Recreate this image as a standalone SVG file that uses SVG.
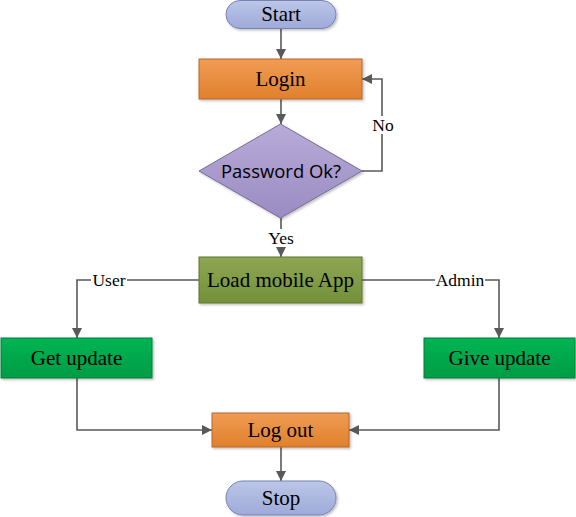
<svg xmlns="http://www.w3.org/2000/svg" width="576" height="517" viewBox="0 0 576 517">
<defs>
<linearGradient id="gBlue" x1="0" y1="0" x2="0" y2="1"><stop offset="0" stop-color="#bcc6e8"/><stop offset="1" stop-color="#9eaad9"/></linearGradient>
<linearGradient id="gOrange" x1="0" y1="0" x2="0" y2="1"><stop offset="0" stop-color="#f09c55"/><stop offset="1" stop-color="#e0802c"/></linearGradient>
<linearGradient id="gPurple" x1="0" y1="0" x2="0" y2="1"><stop offset="0" stop-color="#b9abd8"/><stop offset="1" stop-color="#9a8bc2"/></linearGradient>
<linearGradient id="gOlive" x1="0" y1="0" x2="0" y2="1"><stop offset="0" stop-color="#8ea654"/><stop offset="1" stop-color="#74903a"/></linearGradient>
<linearGradient id="gGreen" x1="0" y1="0" x2="0" y2="1"><stop offset="0" stop-color="#00b552"/><stop offset="1" stop-color="#009c45"/></linearGradient>
<marker id="arr" viewBox="0 0 10 10" refX="10" refY="5" markerWidth="10" markerHeight="10" markerUnits="userSpaceOnUse" orient="auto">
<path d="M0,0 L10,5 L0,10 Z" fill="#595959"/>
</marker>
<filter id="sh" x="-10%" y="-10%" width="130%" height="140%"><feDropShadow dx="1.5" dy="1.5" stdDeviation="1" flood-color="#000" flood-opacity="0.25"/></filter>
</defs>
<style>
.t{font-family:"Liberation Serif","Times New Roman",serif;font-size:21px;fill:#000;text-anchor:middle;dominant-baseline:central}
.lbl{font-family:"Liberation Serif","Times New Roman",serif;font-size:17.5px;fill:#000;text-anchor:middle;dominant-baseline:central}
.ln{fill:none;stroke:#595959;stroke-width:1.6}
.blue{fill:url(#gBlue);stroke:#7683b3;stroke-width:1}
.orange{fill:url(#gOrange);stroke:#b5672a;stroke-width:1}
.purple{fill:url(#gPurple);stroke:#776a99;stroke-width:1}
.olive{fill:url(#gOlive);stroke:#5e7533;stroke-width:1}
.green{fill:url(#gGreen);stroke:#0b7f3a;stroke-width:1}
</style>
<rect width="576" height="517" fill="#fff"/>
<g id="connectors">
<line class="ln" x1="281" y1="28" x2="281" y2="59" marker-end="url(#arr)"/>
<line class="ln" x1="281" y1="99" x2="281" y2="124" marker-end="url(#arr)"/>
<polyline class="ln" points="362,171 382,171 382,79 362,79" marker-end="url(#arr)"/>
<line class="ln" x1="281" y1="218" x2="281" y2="257" marker-end="url(#arr)"/>
<polyline class="ln" points="199,280 77,280 77,338" marker-end="url(#arr)"/>
<polyline class="ln" points="362,280 499,280 499,338" marker-end="url(#arr)"/>
<polyline class="ln" points="77,378 77,430 212,430" marker-end="url(#arr)"/>
<polyline class="ln" points="499,378 499,430 349,430" marker-end="url(#arr)"/>
<line class="ln" x1="281" y1="447" x2="281" y2="481" marker-end="url(#arr)"/>
<rect x="370" y="116" width="26" height="18" fill="#fff"/>
<text class="lbl" x="383" y="125">No</text>
<rect x="266" y="229" width="30" height="18" fill="#fff"/>
<text class="lbl" x="281" y="238">Yes</text>
<rect x="91" y="271" width="36" height="18" fill="#fff"/>
<text class="lbl" x="109" y="280">User</text>
<rect x="435" y="271" width="50" height="18" fill="#fff"/>
<text class="lbl" x="460" y="280">Admin</text>
</g>
<g id="start"><rect class="blue" x="226" y="0.5" width="110" height="28" rx="14" filter="url(#sh)"/><text class="t" x="281" y="14">Start</text></g>
<g id="login"><rect class="orange" x="199" y="59" width="163" height="40" filter="url(#sh)"/><text class="t" x="280.5" y="79">Login</text></g>
<g id="password"><polygon class="purple" points="280.5,124 362,171 280.5,218 199,171" filter="url(#sh)"/><text x="281" y="171" style="font-family:'Open Sans','Noto Sans',sans-serif;font-size:17.5px;fill:#000;text-anchor:middle;dominant-baseline:central" textLength="120" lengthAdjust="spacingAndGlyphs">Password Ok?</text></g>
<g id="load"><rect class="olive" x="199" y="257" width="163" height="46" filter="url(#sh)"/><text class="t" x="280.5" y="280">Load mobile App</text></g>
<g id="get"><rect class="green" x="1" y="338" width="151" height="40" filter="url(#sh)"/><text class="t" x="76.5" y="358">Get update</text></g>
<g id="give"><rect class="green" x="424" y="338" width="151" height="40" filter="url(#sh)"/><text class="t" x="499.5" y="358">Give update</text></g>
<g id="logout"><rect class="orange" x="212" y="413" width="137" height="34" filter="url(#sh)"/><text class="t" x="280.5" y="430">Log out</text></g>
<g id="stop"><rect class="blue" x="226" y="481" width="110" height="34" rx="17" filter="url(#sh)"/><text class="t" x="281" y="498">Stop</text></g>
</svg>
